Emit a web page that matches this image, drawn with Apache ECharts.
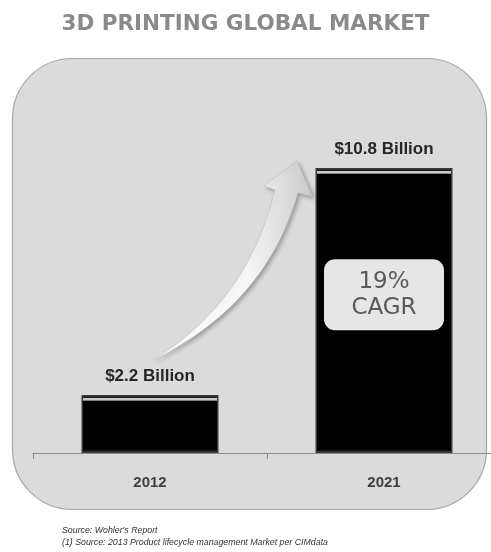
<!DOCTYPE html>
<html>
<head>
<meta charset="utf-8">
<script src="https://cdn.jsdelivr.net/npm/echarts@6/dist/echarts.min.js"></script>
<style>
html,body{margin:0;padding:0;background:#fff;}
#c{width:491px;height:552px;}
</style>
</head>
<body>
<div id="c"></div>
<script>
const categories = ['2012', '2021'];
const values = [2.2, 10.8];
const valueLabels = ['$2.2 Billion', '$10.8 Billion'];
const cagrText = ['19%', 'CAGR'];
const cagrAnchor = ['2021', 6.0];
const titleText = '3D PRINTING GLOBAL MARKET';
const footLines = ["Source: Wohler's Report", '(1) Source: 2013 Product lifecycle management Market per CIMdata'];

const chart = echarts.init(document.getElementById('c'), null, {renderer: 'canvas'});

const yMax = 12.6;
const gridH = 332.5;

function barColor(params) {
  const h = params.value / yMax * gridH;
  const a = 3 / h, b = 5 / h, c = 6.5 / h;
  return new echarts.graphic.LinearGradient(0, 0, 0, 1, [
    {offset: 0, color: '#1a1a1a'},
    {offset: a, color: '#1a1a1a'},
    {offset: a + 0.0001, color: '#c8c8c8'},
    {offset: b, color: '#c8c8c8'},
    {offset: c, color: '#000'},
    {offset: 1 - 4 / h, color: '#000'},
    {offset: 1, color: '#3a3a3a'}
  ]);
}

// decorative arrow outline (quadratic curves sampled)
function quad(p0, p1, p2, n) {
  const out = [];
  for (let i = 0; i <= n; i++) {
    const t = i / n, u = 1 - t;
    out.push([u * u * p0[0] + 2 * u * t * p1[0] + t * t * p2[0], u * u * p0[1] + 2 * u * t * p1[1] + t * t * p2[1]]);
  }
  return out;
}
const arrowPts = [].concat(
  quad([153, 360], [248, 302], [275, 190], 30),
  [[264, 186], [297, 161], [313, 197]],
  quad([298, 193], [266, 305], [153, 360], 30)
);

const option = {
  backgroundColor: '#ffffff',
  animation: false,
  title: {
    text: titleText,
    left: 'center',
    top: 8,
    textStyle: {fontFamily: 'DejaVu Sans', fontWeight: 'bold', fontSize: 21.5, color: '#8a8a8a'}
  },
  graphic: [
    {
      type: 'rect', z: 0,
      shape: {x: 12.5, y: 58.5, width: 474, height: 451, r: 60},
      style: {fill: '#dbdbdb', stroke: '#a8a8a8', lineWidth: 1.2}
    },
    {
      type: 'polygon', z: 1,
      shape: {points: arrowPts},
      style: {
        fill: new echarts.graphic.LinearGradient(0, 0, 1, 0, [
          {offset: 0, color: '#ffffff'},
          {offset: 0.6, color: '#f6f6f6'},
          {offset: 1, color: '#c8c8c8'}
        ]),
        stroke: 'rgba(170,170,170,0.5)', lineWidth: 0.6,
        shadowBlur: 4, shadowColor: 'rgba(0,0,0,0.3)', shadowOffsetX: 2, shadowOffsetY: 2
      }
    },
    {
      type: 'text', z: 1, left: 62, top: 525,
      style: {text: footLines.join('\n'), font: 'italic 8.8px "Liberation Sans"', fill: '#333', lineHeight: 12}
    }
  ],
  grid: {left: 33, top: 453 - gridH, width: 468, height: gridH, outerBoundsMode: 'none', containLabel: false},
  xAxis: {
    type: 'category',
    data: categories,
    axisLine: {show: true, lineStyle: {color: '#8c8c8c', width: 1}},
    axisTick: {show: true, length: 6, lineStyle: {color: '#8c8c8c'}},
    axisLabel: {margin: 22, fontFamily: 'Liberation Sans', fontWeight: 'bold', fontSize: 15, color: '#3f3f3f'}
  },
  yAxis: {type: 'value', min: 0, max: yMax, show: false, splitLine: {show: false}},
  series: [{
    type: 'bar',
    data: values,
    barWidth: 137,
    z: 3,
    itemStyle: {color: barColor, borderColor: '#3c3c3c', borderWidth: 1.5},
    label: {
      show: true, position: 'top', distance: 10,
      formatter: p => valueLabels[p.dataIndex],
      fontFamily: 'Liberation Sans', fontWeight: 'bold', fontSize: 17, color: '#262626'
    },
    markPoint: {
      symbol: 'rect', symbolSize: 1,
      itemStyle: {color: 'rgba(0,0,0,0)'},
      label: {
        show: true, position: 'inside',
        formatter: () => cagrText.join('\n'),
        fontFamily: 'DejaVu Sans', fontSize: 23, color: '#5a5a5a', lineHeight: 26,
        backgroundColor: '#e6e6e6', borderRadius: 11, width: 120, align: 'center',
        padding: [10, 0, 9, 0]
      },
      data: [{coord: cagrAnchor}]
    }
  }]
};
chart.setOption(option);
</script>
</body>
</html>
